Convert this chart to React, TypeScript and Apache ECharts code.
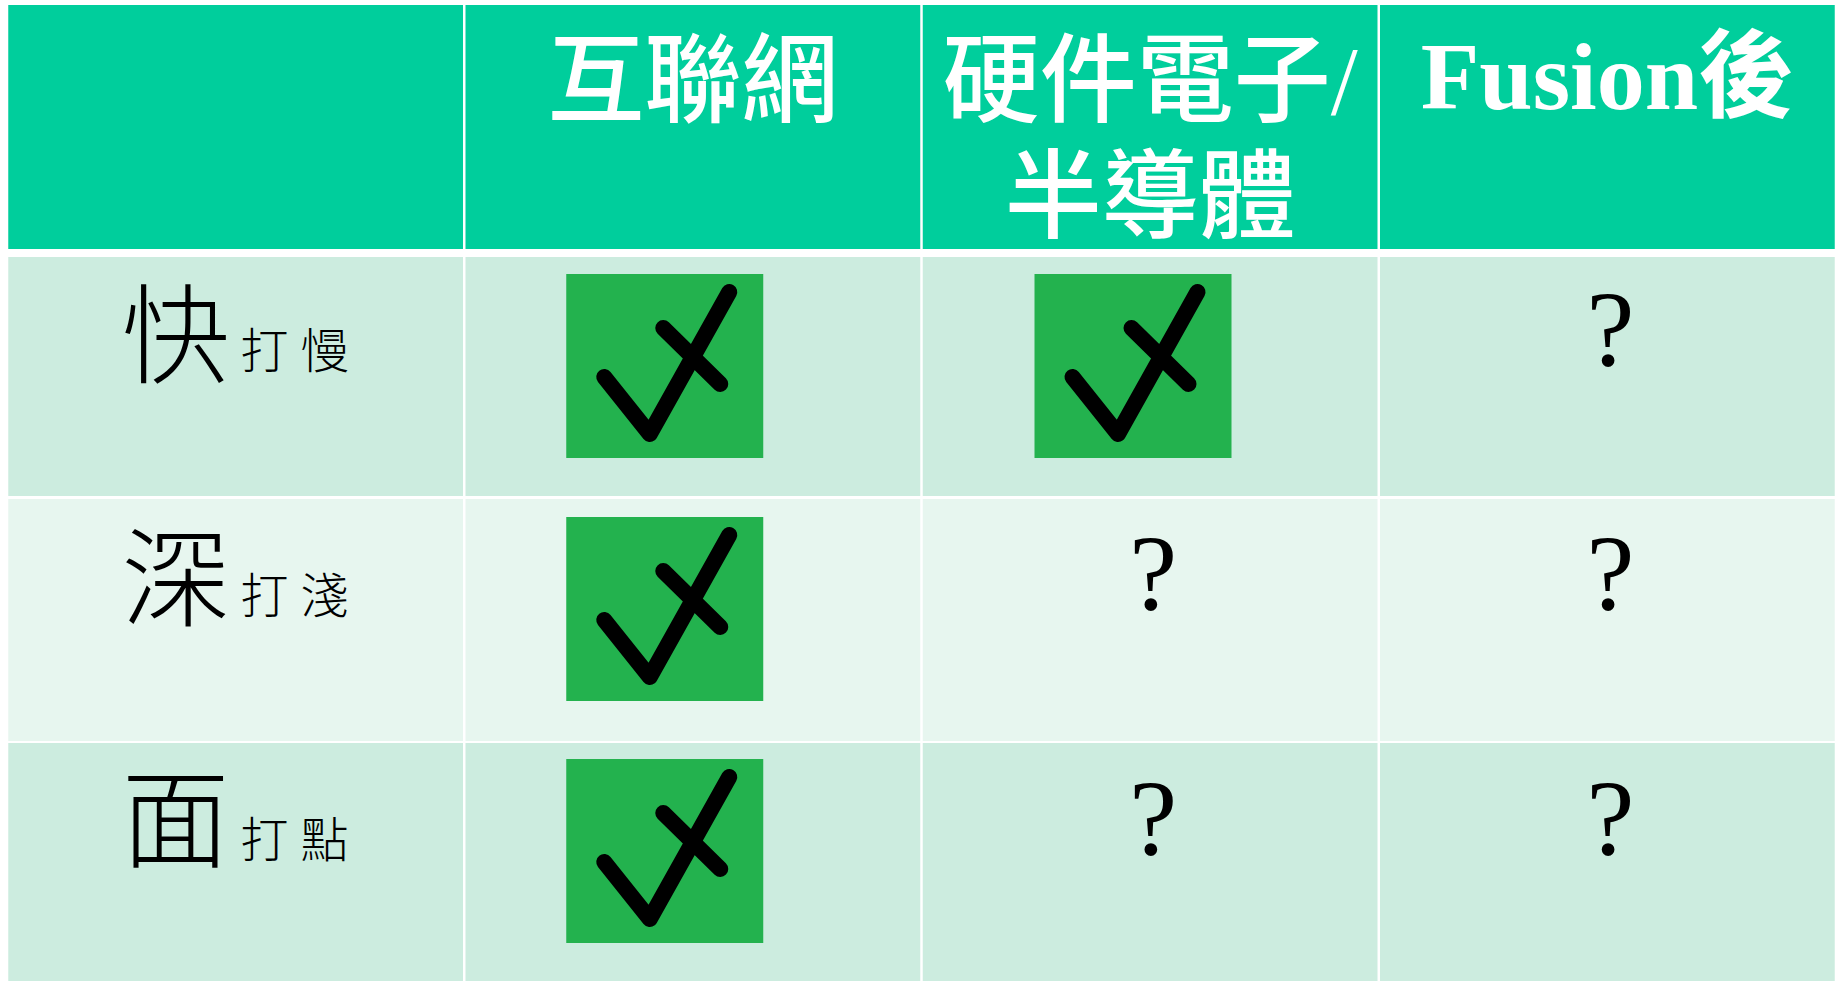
import React, { useEffect, useRef } from "react";
import * as echarts from "echarts";

// ---- table content ----
const columnHeads = ["", "互聯網", "硬件電子/\n半導體", "Fusion後"];
const rowBig = ["", "快", "深", "面"];
const rowSmall = ["", "打 慢", "打 淺", "打 點"];
const internetMarks = ["check", "check", "check"];
const hardwareMarks = ["check", "?", "?"];
const fusionMarks = ["?", "?", "?"];

// ---- styling ----
const HEAD_BG = "#00CE9C";
const ODD_BG = "#CCECDF";
const EVEN_BG = "#E7F6EF";
const CHECK_BG = "#23B24E";
const CJK = "'Noto Sans CJK TC'";
const SERIF = "'Liberation Serif'";

// per-row pixel corrections of the cell rectangles against the equal bands
const rowTopInset = [0, 8, 6, 6];
const rowBottomInset = [0, -3, -4, 0];
const checkTop = [0, 25, 24, 22];
const questionShift = [0, -43, -43, -42];
const bigShift = [0, -43, -44, -47];
const smallShift = [0, -20, -19, -19];

const markOf = (col: number, row: number) => {
  if (row === 0 || col === 0) return "";
  const list = [internetMarks, hardwareMarks, fusionMarks][col - 1];
  return list[row - 1];
};

const cells: number[][] = [];
for (let r = 0; r < rowBig.length; r++) {
  for (let c = 0; c < columnHeads.length; c++) cells.push([c, r]);
}

const renderCell = (_: any, api: any) => {
  const col = api.value(0);
  const row = api.value(1);
  const [cx, cy] = api.coord([col, row]);
  const [bw, bh] = api.size([1, 1]);
  const left = cx - bw / 2;
  const top = cy - bh / 2;
  const children: any[] = [];
  const bg = row === 0 ? HEAD_BG : row % 2 === 1 ? ODD_BG : EVEN_BG;
  children.push({
    type: "rect",
    shape: {
      x: left + 1.25,
      y: top + rowTopInset[row],
      width: bw - 2.5,
      height: bh - rowTopInset[row] - rowBottomInset[row],
    },
    style: { fill: bg },
  });

  const text = (str: string, x: number, y: number, font: string, fill = "#000") => ({
    type: "text",
    style: { text: str, x, y, font, fill, textAlign: "center", textVerticalAlign: "middle" },
  });

  if (row === 0 && col > 0) {
    const lines = columnHeads[col].split("\n");
    const weight = col === 3 ? "bold 96px" : "500 97px";
    const y0 = col === 3 ? 71 : 76;
    lines.forEach((ln, i) => {
      children.push(text(ln, cx, top + y0 + i * 116, `${weight} ${SERIF}, ${CJK}`, "#fff"));
    });
  } else if (col === 0 && row > 0) {
    children.push(text(rowBig[row], cx - 60, cy + bigShift[row], `300 108px ${CJK}`));
    children.push(text(rowSmall[row], cx + 59, cy + smallShift[row], `300 48px ${SERIF}, ${CJK}`));
  } else if (row > 0) {
    const m = markOf(col, row);
    if (m === "check") {
      const bx = left + (col === 1 ? 102 : 113);
      const by = top + checkTop[row];
      children.push({
        type: "rect",
        shape: { x: bx, y: by, width: 197, height: 184 },
        style: { fill: CHECK_BG },
      });
      children.push({
        type: "polyline",
        shape: {
          points: [
            [bx + 38, by + 103],
            [bx + 83.5, by + 160],
            [bx + 163, by + 18],
          ],
        },
        style: { stroke: "#000", lineWidth: 16, fill: "none", lineCap: "round", lineJoin: "round" },
      });
      children.push({
        type: "line",
        shape: { x1: bx + 97, y1: by + 54, x2: bx + 154, y2: by + 110 },
        style: { stroke: "#000", lineWidth: 16, lineCap: "round" },
      });
    } else if (m === "?") {
      children.push(text(m, cx + 3, cy + questionShift[row], `400 108px ${SERIF}`));
    }
  }
  return { type: "group", children };
};

export default function App() {
  const ref = useRef<HTMLDivElement>(null);
  useEffect(() => {
    document.body.style.margin = "0";
    document.body.style.overflow = "hidden";
    const chart = echarts.init(ref.current!, null, { renderer: "svg" });
    chart.setOption({
      animation: false,
      backgroundColor: "#fff",
      grid: { left: 7, right: 5, top: 5, bottom: 0 },
      xAxis: { type: "category", data: columnHeads, show: false },
      yAxis: { type: "category", data: rowBig, inverse: true, show: false },
      series: [
        {
          type: "custom",
          coordinateSystem: "cartesian2d",
          data: cells,
          encode: { x: 0, y: 1 },
          clip: false,
          silent: true,
          renderItem: renderCell,
        },
      ],
    });
    return () => chart.dispose();
  }, []);
  return <div ref={ref} style={{ width: 1841, height: 981 }} />;
}
